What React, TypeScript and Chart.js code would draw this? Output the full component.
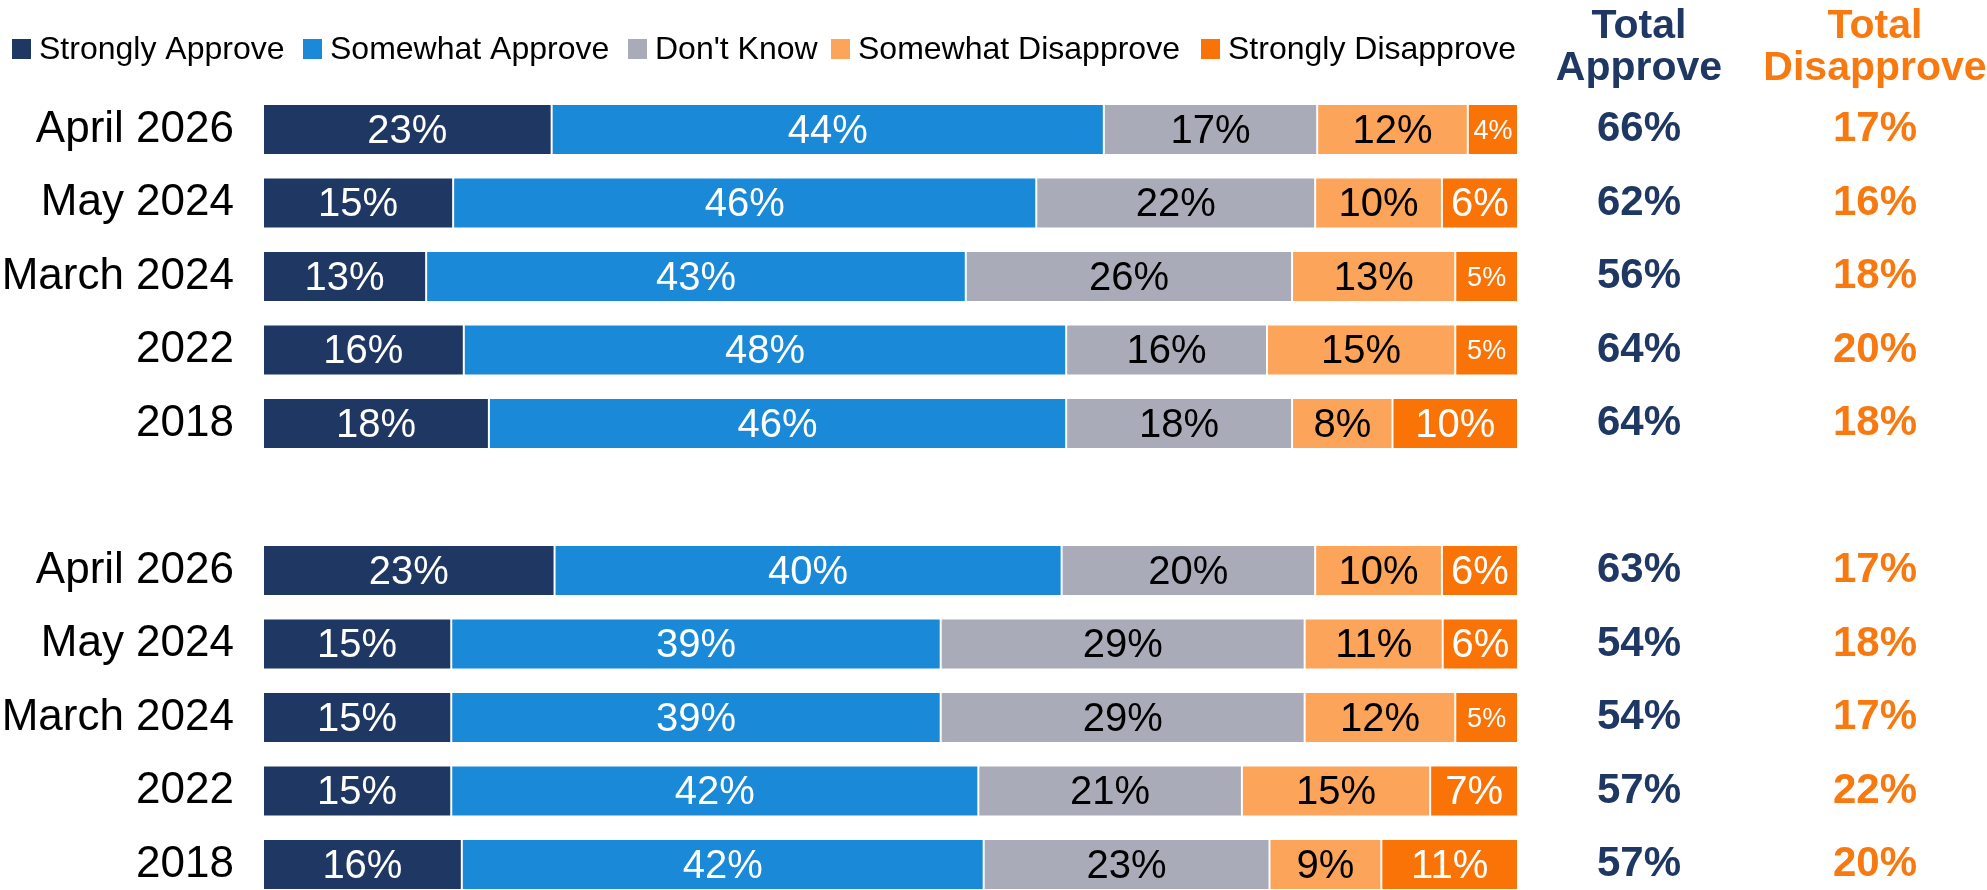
import React, { useEffect, useRef } from "react";
import { Chart, registerables } from "chart.js";

Chart.register(...registerables);

const categories = [
  "April 2026", "May 2024", "March 2024", "2022", "2018", "",
  "April 2026", "May 2024", "March 2024", "2022", "2018",
];
const seriesNames = [
  "Strongly Approve", "Somewhat Approve", "Don't Know", "Somewhat Disapprove", "Strongly Disapprove",
];
const stronglyApprove = [23, 15, 13, 16, 18, null, 23, 15, 15, 15, 16];
const somewhatApprove = [44, 46, 43, 48, 46, null, 40, 39, 39, 42, 42];
const dontKnow = [17, 22, 26, 16, 18, null, 20, 29, 29, 21, 23];
const somewhatDisapprove = [12, 10, 13, 15, 8, null, 10, 11, 12, 15, 9];
const stronglyDisapprove = [4, 6, 5, 5, 10, null, 6, 6, 5, 7, 11];
const totalApprove = [66, 62, 56, 64, 64, null, 63, 54, 54, 57, 57];
const totalDisapprove = [17, 16, 18, 20, 18, null, 17, 18, 17, 22, 20];

const colors = ["#1F3763", "#1A89D8", "#A9ABB8", "#FCA459", "#F97306"];
const labelColors = ["#FFFFFF", "#FFFFFF", "#000000", "#000000", "#FFFFFF"];
const NAVY = "#1F3763";
const ORANGE = "#F7790F";
const FONT = "'Liberation Sans', Arial, sans-serif";

const raw = [stronglyApprove, somewhatApprove, dontKnow, somewhatDisapprove, stronglyDisapprove];
const rowSums = categories.map((_, i) =>
  raw.reduce((s, arr) => s + (arr[i] == null ? 0 : (arr[i] as number)), 0)
);
const normalized = raw.map((arr) =>
  arr.map((v, i) => (v == null ? null : ((v as number) / rowSums[i]) * 100))
);

const overlayPlugin = {
  id: "overlay",
  afterDatasetsDraw(chart: any) {
    const ctx = chart.ctx;
    ctx.save();
    ctx.textAlign = "center";
    ctx.textBaseline = "middle";
    chart.data.datasets.forEach((ds: any, di: number) => {
      const meta = chart.getDatasetMeta(di);
      meta.data.forEach((bar: any, i: number) => {
        const v = raw[di][i];
        if (v == null) return;
        const cx = (bar.x + bar.base) / 2;
        const size = (v as number) <= 5 ? 27 : 40;
        ctx.font = `${size}px ${FONT}`;
        ctx.fillStyle = labelColors[di];
        ctx.fillText(`${v}%`, cx, bar.y + 2);
      });
    });
    ctx.restore();
  },
  afterDraw(chart: any) {
    const ctx = chart.ctx;
    const yScale = chart.scales.y;
    ctx.save();
    // legend
    const legendX = [12, 303, 628, 831, 1201];
    ctx.font = `32px ${FONT}`;
    ctx.textAlign = "left";
    ctx.textBaseline = "middle";
    seriesNames.forEach((name, k) => {
      const x = legendX[k];
      ctx.fillStyle = colors[k];
      ctx.fillRect(x, 39, 19, 20);
      ctx.fillStyle = "#000000";
      ctx.fillText(name, x + 27, 50);
    });
    // headers
    const colA = 1639;
    const colD = 1875;
    ctx.textAlign = "center";
    ctx.textBaseline = "alphabetic";
    ctx.font = `bold 41px ${FONT}`;
    ctx.fillStyle = NAVY;
    ctx.fillText("Total", colA, 38);
    ctx.fillText("Approve", colA, 80);
    ctx.fillStyle = ORANGE;
    ctx.fillText("Total", colD, 38);
    ctx.fillText("Disapprove", colD, 80);
    // totals
    ctx.textBaseline = "middle";
    ctx.font = `bold 42px ${FONT}`;
    categories.forEach((_, i) => {
      const a = totalApprove[i];
      const d = totalDisapprove[i];
      const y = yScale.getPixelForValue(i);
      if (a != null) {
        ctx.fillStyle = NAVY;
        ctx.fillText(`${a}%`, colA, y);
      }
      if (d != null) {
        ctx.fillStyle = ORANGE;
        ctx.fillText(`${d}%`, colD, y);
      }
    });
    ctx.restore();
  },
};

export default function App() {
  const ref = useRef<HTMLCanvasElement | null>(null);
  useEffect(() => {
    if (!ref.current) return;
    const chart = new Chart(ref.current, {
      type: "bar",
      data: {
        labels: categories,
        datasets: normalized.map((d, k) => ({
          label: seriesNames[k],
          data: d,
          backgroundColor: colors[k],
          borderColor: "rgba(255,255,255,0.3)",
          borderWidth: 1,
          borderSkipped: false,
          barPercentage: 0.694,
          categoryPercentage: 1,
        })),
      },
      options: {
        indexAxis: "y",
        responsive: false,
        animation: false,
        layout: { padding: { top: 92.75, bottom: 0.75, left: 0, right: 469 } },
        plugins: { legend: { display: false }, tooltip: { enabled: false } },
        scales: {
          x: { stacked: true, min: 0, max: 100, display: false },
          y: {
            stacked: true,
            grid: { display: false, drawTicks: false },
            border: { display: false },
            afterFit: (scale: any) => {
              scale.width = 263;
              scale.paddingTop = 0;
              scale.paddingBottom = 0;
            },
            ticks: {
              autoSkip: false,
              padding: 29,
              color: "#000000",
              font: { family: FONT, size: 44 },
            },
          },
        },
      },
      plugins: [overlayPlugin],
    });
    return () => chart.destroy();
  }, []);
  return (
    <div
      style={{
        position: "absolute",
        left: 0,
        top: 0,
        width: 1987,
        height: 890,
        overflow: "hidden",
        background: "#FFFFFF",
      }}
    >
      <canvas ref={ref} width={1987} height={902} style={{ display: "block" }} />
    </div>
  );
}
